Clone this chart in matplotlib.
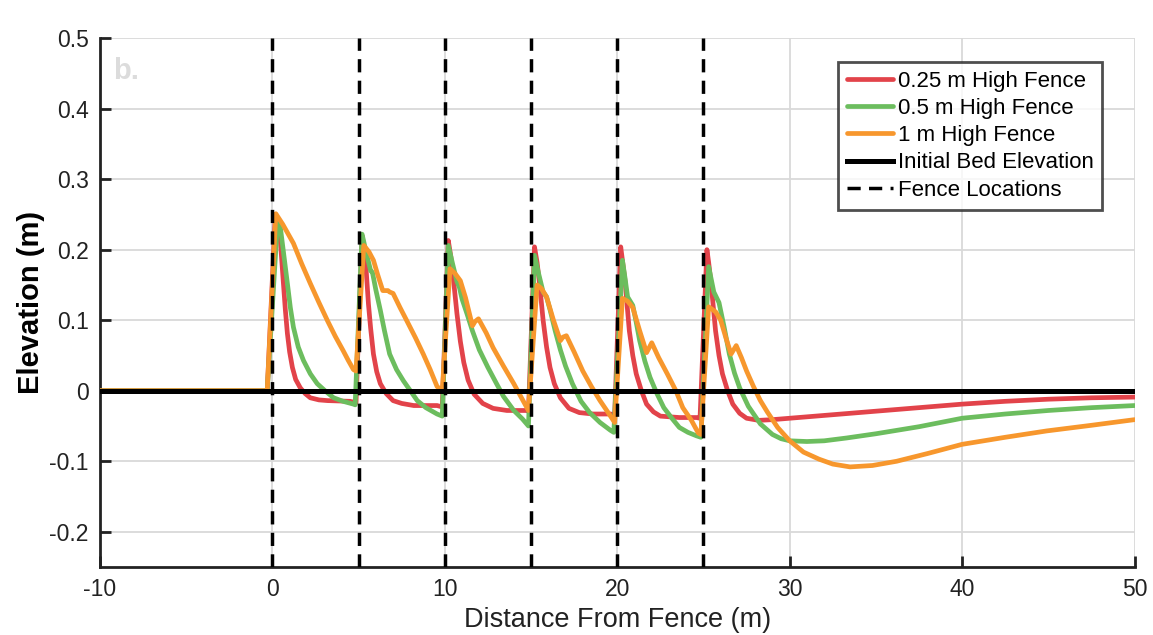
import matplotlib
matplotlib.use("Agg")
import matplotlib.pyplot as plt

plt.rcParams['font.family'] = ['Liberation Sans', 'DejaVu Sans']
plt.rcParams['axes.unicode_minus'] = False

# ---------------- data ----------------
red_x = [-10, -0.3, 0.17, 0.3, 0.46, 0.64, 0.75, 0.87, 1.0, 1.16, 1.35, 1.62, 1.9, 2.2, 2.7, 3.2, 4.5, 4.85,
         5.2, 5.3, 5.4, 5.57, 5.7, 5.86, 6.05, 6.26, 6.6, 7.0, 7.5, 8.2, 9.55, 9.85,
         10.2, 10.35, 10.5, 10.7, 10.9, 11.1, 11.35, 11.7, 12.2, 12.8, 13.6, 14.7, 14.85,
         15.2, 15.35, 15.5, 15.7, 15.9, 16.1, 16.35, 16.7, 17.2, 17.8, 18.6, 19.6, 19.85,
         20.2, 20.3, 20.45, 20.7, 20.9, 21.1, 21.4, 21.7, 22.1, 22.5, 23.6, 24.6, 24.8,
         25.2, 25.3, 25.45, 25.7, 25.9, 26.1, 26.4, 26.7, 27.1, 27.5, 28.2, 29, 30,
         32.5, 35, 37.5, 40, 42.5, 45, 47.5, 50]
red_y = [0, 0, 0.249, 0.235, 0.213, 0.152, 0.115, 0.081, 0.055, 0.033, 0.016, 0.004, -0.004, -0.010, -0.013, -0.014, -0.015, -0.017,
         0.220, 0.205, 0.185, 0.123, 0.088, 0.052, 0.027, 0.010, -0.004, -0.014, -0.018, -0.021, -0.021, -0.023,
         0.213, 0.190, 0.158, 0.110, 0.070, 0.040, 0.015, -0.005, -0.018, -0.025, -0.028, -0.028, -0.029,
         0.204, 0.182, 0.150, 0.100, 0.062, 0.033, 0.010, -0.010, -0.025, -0.031, -0.033, -0.033, -0.034,
         0.204, 0.185, 0.156, 0.085, 0.050, 0.024, 0.000, -0.019, -0.030, -0.036, -0.038, -0.038, -0.039,
         0.200, 0.182, 0.150, 0.085, 0.050, 0.024, 0.000, -0.019, -0.032, -0.039, -0.042, -0.041, -0.039,
         -0.034, -0.029, -0.024, -0.019, -0.015, -0.012, -0.010, -0.009]

green_x = [-10, -0.3, 0.3, 0.46, 0.65, 0.87, 1.04, 1.22, 1.5, 1.8, 2.2, 2.6, 3.05, 3.55, 4.1, 4.7, 4.8,
           5.2, 5.45, 5.7, 5.8, 6.0, 6.26, 6.5, 6.8, 7.2, 7.6, 8.0, 8.4, 8.9, 9.55, 9.85,
           10.2, 10.45, 10.7, 10.85, 11.0, 11.3, 11.6, 12.0, 12.5, 13.0, 13.4, 14.0, 14.5, 14.85,
           15.2, 15.45, 15.7, 15.9, 16.1, 16.4, 16.7, 17.0, 17.4, 17.9, 18.4, 19.0, 19.6, 19.8,
           20.3, 20.45, 20.6, 20.9, 21.1, 21.3, 21.6, 21.9, 22.3, 22.7, 23.2, 23.6, 24.1, 24.6, 24.85,
           25.3, 25.6, 25.9, 26.2, 26.5, 26.8, 27.1, 27.6, 28.3, 29.0, 29.5, 30.0, 31.0, 32.0, 33.3,
           35, 37.5, 40, 42.5, 45, 47.5, 50]
green_y = [0, 0, 0.241, 0.232, 0.195, 0.152, 0.118, 0.090, 0.062, 0.043, 0.024, 0.010, 0.000, -0.010, -0.015, -0.019, -0.020,
           0.222, 0.195, 0.170, 0.168, 0.143, 0.114, 0.085, 0.052, 0.030, 0.014, 0.000, -0.014, -0.024, -0.033, -0.036,
           0.206, 0.180, 0.155, 0.146, 0.130, 0.108, 0.085, 0.058, 0.033, 0.010, -0.008, -0.028, -0.040, -0.050,
           0.192, 0.165, 0.140, 0.133, 0.115, 0.085, 0.058, 0.035, 0.010, -0.015, -0.031, -0.045, -0.056, -0.059,
           0.185, 0.160, 0.133, 0.121, 0.097, 0.071, 0.042, 0.019, -0.004, -0.024, -0.040, -0.052, -0.059, -0.064, -0.066,
           0.176, 0.140, 0.125, 0.090, 0.052, 0.025, 0.004, -0.022, -0.047, -0.062, -0.068, -0.071, -0.072, -0.071, -0.067,
           -0.061, -0.051, -0.039, -0.033, -0.028, -0.024, -0.021]

orange_x = [-10, -0.3, 0.2, 0.6, 1.22, 1.7, 2.2, 2.7, 3.2, 3.65, 4.1, 4.4, 4.7, 4.85,
            5.3, 5.6, 5.86, 6.1, 6.4, 6.7, 6.8, 7.0, 7.4, 7.8, 8.3, 8.75, 9.15, 9.55, 9.85,
            10.3, 10.6, 10.9, 11.2, 11.6, 11.75, 11.95, 12.4, 12.8, 13.4, 14.0, 14.4, 14.85,
            15.35, 15.6, 15.9, 16.3, 16.7, 16.85, 17.05, 17.5, 18.0, 18.5, 19.0, 19.5, 19.85,
            20.3, 20.6, 20.9, 21.3, 21.7, 22.0, 22.4, 22.9, 23.4, 23.8, 24.3, 24.7, 24.85,
            25.3, 25.7, 26.0, 26.3, 26.6, 26.9, 27.2, 27.5, 27.9, 28.3, 28.7, 29.3, 30, 30.8, 31.7,
            32.5, 33.5, 34.8, 36.2, 38, 40, 42.5, 44.9, 47.5, 50]
orange_y = [0, 0, 0.251, 0.236, 0.209, 0.180, 0.152, 0.125, 0.099, 0.077, 0.057, 0.043, 0.030, 0.028,
            0.206, 0.197, 0.185, 0.165, 0.142, 0.142, 0.140, 0.138, 0.118, 0.099, 0.075, 0.052, 0.030, 0.006, 0.000,
            0.173, 0.166, 0.156, 0.132, 0.092, 0.098, 0.102, 0.082, 0.061, 0.035, 0.010, -0.008, -0.028,
            0.150, 0.145, 0.133, 0.100, 0.071, 0.076, 0.078, 0.055, 0.028, 0.006, -0.014, -0.032, -0.045,
            0.131, 0.127, 0.118, 0.085, 0.054, 0.068, 0.047, 0.024, 0.000, -0.024, -0.042, -0.060, -0.062,
            0.119, 0.112, 0.100, 0.075, 0.052, 0.064, 0.047, 0.028, 0.006, -0.014, -0.030, -0.052, -0.071, -0.087, -0.097,
            -0.104, -0.108, -0.106, -0.100, -0.089, -0.076, -0.066, -0.057, -0.049, -0.041]

bed_x = [-10, 50]
bed_y = [0, 0]
fence_positions = [0, 5, 10, 15, 20, 25]

labels = ["0.25 m High Fence", "0.5 m High Fence", "1 m High Fence",
          "Initial Bed Elevation", "Fence Locations"]
x_ticks = [-10, 0, 10, 20, 30, 40, 50]
y_ticks = [-0.2, -0.1, 0, 0.1, 0.2, 0.3, 0.4, 0.5]
y_tick_labels = ["-0.2", "-0.1", "0", "0.1", "0.2", "0.3", "0.4", "0.5"]

# ---------------- figure ----------------
fig = plt.figure(figsize=(11.53, 6.35), dpi=100)
ax = fig.add_axes([0.0867, 0.107, 0.8973, 0.833])

RED = "#e2434a"
GREEN = "#6cbd5e"
ORANGE = "#f7972d"

kw = dict(lw=3.4, solid_joinstyle='round', solid_capstyle='round')
l1, = ax.plot(red_x, red_y, color=RED, zorder=3, **kw)
l2, = ax.plot(green_x, green_y, color=GREEN, zorder=4, **kw)
l3, = ax.plot(orange_x, orange_y, color=ORANGE, zorder=5, **kw)
l4, = ax.plot(bed_x, bed_y, color="black", lw=3.6, zorder=6)
fl = None
for xf in fence_positions:
    fl = ax.axvline(xf, color="black", lw=2.5, ls=(0, (3.8, 2.4)), zorder=7)

ax.set_xlim(-10, 50)
ax.set_ylim(-0.25, 0.5)
ax.set_xticks(x_ticks)
ax.set_yticks(y_ticks)
ax.set_yticklabels(y_tick_labels)
ax.grid(True, color="#d9d9d9", lw=1.3, zorder=0)
ax.set_axisbelow(True)

for s in ["top", "right"]:
    ax.spines[s].set_visible(False)
for s in ["left", "bottom"]:
    ax.spines[s].set_linewidth(2)
    ax.spines[s].set_color("#222222")
ax.tick_params(direction="in", length=8, width=2, labelsize=16.5, colors="#222222",
               labelcolor="#222222", pad=8)

ax.set_xlabel("Distance From Fence (m)", fontsize=19.5, color="#222222", labelpad=4)
ax.set_ylabel("Elevation (m)", fontsize=21, fontweight="bold", color="black", labelpad=3)

ax.text(0.013, 0.965, "b.", transform=ax.transAxes, fontsize=21, fontweight="bold",
        color="#dcdcdc", va="top", ha="left")

leg = ax.legend([l1, l2, l3, l4, fl], labels, loc="upper right",
                bbox_to_anchor=(0.969, 0.955), fontsize=16, frameon=True,
                fancybox=False, handlelength=2.1, handletextpad=0.2,
                labelspacing=0.28, borderpad=0.4, borderaxespad=0.0)
leg.get_frame().set_edgecolor("#222222")
leg.get_frame().set_linewidth(2)
leg.set_zorder(10)

fig.savefig("out.png", dpi=100, facecolor="white")
